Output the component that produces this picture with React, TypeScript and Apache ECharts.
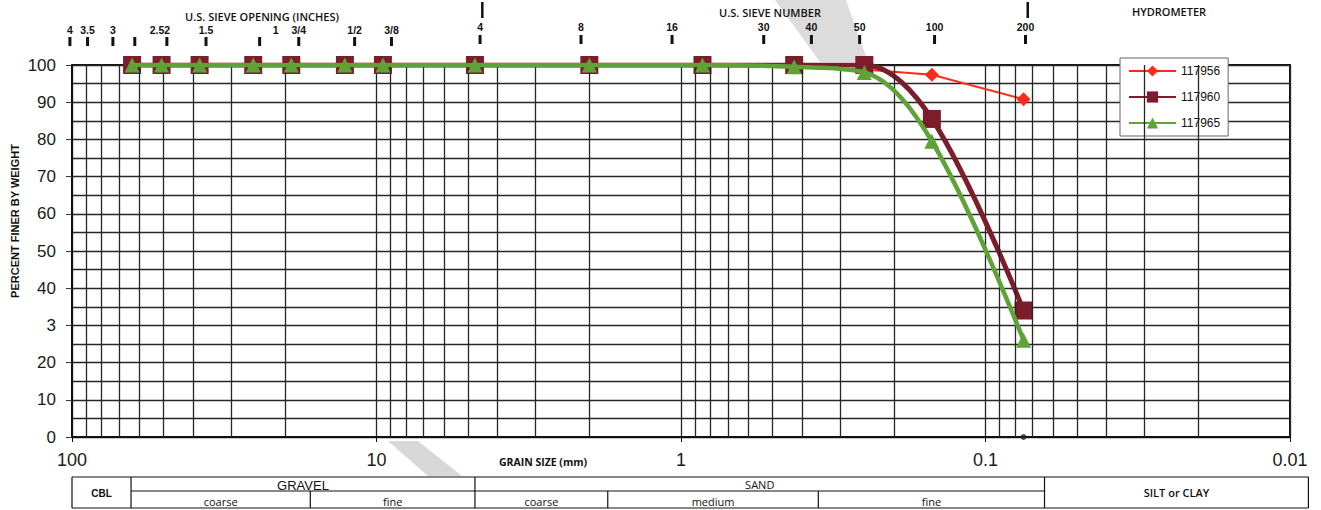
import React, { useEffect, useRef } from 'react';
import * as echarts from 'echarts';

// ---------- DATA ----------
const sieveSizesMm = [63.5, 50.8, 38.1, 25.4, 19.05, 12.7, 9.525, 4.75, 2.0, 0.85, 0.425, 0.25, 0.15, 0.075];
const pct117956 = [100, 100, 100, 100, 100, 100, 100, 100, 100, 100, 99.3, 98.8, 97.4, 90.8];
const pct117960 = [100, 100, 100, 100, 100, 100, 100, 100, 100, 100, 100, 100, 85.5, 34];
const pct117965 = [100, 100, 100, 100, 100, 100, 100, 100, 100, 100, 99.5, 98, 79.5, 26];
const hydrometerMm = [0.075];
const hydrometerPct = [0];

const seriesNames = ['117956', '117960', '117965'];
const xTickValues = [100, 10, 1, 0.1, 0.01];
const xTickLabels = ['100', '10', '1', '0.1', '0.01'];
const yTickLabels = ['0', '10', '20', '3', '40', '50', '60', '70', '80', '90', '100'];

// log-paper minor vertical lines (mm)
const gridLinesMm = [
  90, 80, 70, 60, 50, 40, 30, 20,
  9, 8, 7, 6, 5, 4, 3, 2,
  0.9, 0.8, 0.7, 0.6, 0.5, 0.4, 0.3, 0.2,
  0.09, 0.08, 0.07, 0.06, 0.05, 0.04, 0.03, 0.02,
];

// top sieve scales, as printed on the form (mm)
const inchSieveLabels = ['4', '3.5', '3', '', '2.52', '1.5', '1', '3/4', '1/2', '3/8'];
const inchSieveMm = [101.6, 88.9, 73.4, 62.2, 48.8, 36.3, 24.2, 18.0, 11.8, 8.93];
const numberSieveLabels = ['4', '8', '16', '30', '40', '50', '100', '200'];
const numberSieveMm = [4.57, 2.13, 1.07, 0.535, 0.373, 0.259, 0.147, 0.0739];

// classification table boundaries as printed (mm)
const tableBoundaryMm = [100, 64, 16.5, 4.75, 1.74, 0.354, 0.064, 0.0087];

const COLORS = ['#ff2a1a', '#7c1d2b', '#5fa336'];

export default function App() {
  const ref = useRef<HTMLDivElement>(null);

  useEffect(() => {
    const el = ref.current!;
    const chart = echarts.init(el, null, { renderer: 'svg' });
    const zip = (ys: number[]) => sieveSizesMm.map((x, i) => [x, ys[i]]);
    const lineColor = '#262626';
    const lineW = 1.3;

    const option: any = {
      animation: false,
      backgroundColor: '#ffffff',
      grid: {
        left: 72, right: 31, top: 65, bottom: 73,
        show: true, borderColor: '#111', borderWidth: 2, backgroundColor: '#ffffff',
      },
      legend: {
        data: seriesNames,
        orient: 'vertical',
        left: 1120, top: 58,
        padding: [7, 8, 7, 8],
        itemWidth: 47, itemHeight: 14, itemGap: 14,
        backgroundColor: '#ffffff', borderColor: '#666', borderWidth: 1,
        textStyle: { fontSize: 12, color: '#111', fontFamily: 'Liberation Sans, Arial' },
      },
      xAxis: {
        type: 'log', logBase: 10, min: 0.01, max: 100, inverse: true,
        axisLine: { show: true, lineStyle: { color: '#111', width: 2 } },
        axisTick: { show: true, length: 5, lineStyle: { color: '#111' } },
        splitLine: { show: true, lineStyle: { color: lineColor, width: lineW } },
        axisLabel: {
          margin: 14, fontSize: 18, color: '#1a1a1a', fontFamily: 'Liberation Sans, Arial',
          showMinLabel: true, showMaxLabel: true,
          formatter: (v: number) => {
            const i = xTickValues.findIndex((t) => Math.abs(Math.log10(t) - Math.log10(v)) < 1e-6);
            return i >= 0 ? xTickLabels[i] : '';
          },
        },
      },
      yAxis: [
        {
          type: 'value', min: 0, max: 100, interval: 5,
          axisLine: { show: true, lineStyle: { color: '#111', width: 2 } },
          axisTick: { show: false },
          splitLine: { show: true, lineStyle: { color: lineColor, width: lineW } },
          axisLabel: {
            margin: 16, fontSize: 17, color: '#1a1a1a', fontFamily: 'Liberation Sans, Arial',
            formatter: (v: number) => (v % 10 === 0 ? yTickLabels[v / 10] : ''),
          },
        },
        {
          type: 'value', min: 0, max: 100, interval: 10, position: 'left',
          axisLine: { show: false },
          axisTick: { show: true, length: 6, lineStyle: { color: '#333' } },
          axisLabel: { show: false },
          splitLine: { show: false },
        },
      ],
      series: [
        {
          type: 'line', name: 'logGrid', data: [], silent: true, z: 1,
          markLine: {
            silent: true, symbol: ['none', 'none'], label: { show: false },
            lineStyle: { color: lineColor, width: lineW, type: 'solid' },
            emphasis: { disabled: true },
            data: gridLinesMm.map((v) => ({ xAxis: v })),
          },
        },
        {
          name: seriesNames[0], type: 'line', data: zip(pct117956), z: 3,
          symbol: 'diamond', symbolSize: 14,
          lineStyle: { color: COLORS[0], width: 2 },
          itemStyle: { color: COLORS[0] },
        },
        {
          name: seriesNames[1], type: 'line', data: zip(pct117960), z: 4, smooth: 0.35,
          symbol: 'rect', symbolSize: 18,
          lineStyle: { color: COLORS[1], width: 5 },
          itemStyle: { color: COLORS[1] },
        },
        {
          name: seriesNames[2], type: 'line', data: zip(pct117965), z: 5, smooth: 0.35,
          symbol: 'triangle', symbolSize: 15,
          lineStyle: { color: COLORS[2], width: 4.5 },
          itemStyle: { color: COLORS[2] },
        },
        {
          name: 'hydrometer', type: 'scatter', z: 6,
          data: hydrometerMm.map((x, i) => [x, hydrometerPct[i]]),
          symbol: 'circle', symbolSize: 6, itemStyle: { color: '#222' },
        },
      ],
    };
    chart.setOption(option);

    const px = (mm: number, pct: number) =>
      chart.convertToPixel({ xAxisIndex: 0, yAxisIndex: 0 }, [mm, pct]) as number[];

    const g: any[] = [];
    const bold = (size: number) => `bold ${size}px "Liberation Sans", Arial`;
    const txt = (text: string, x: number, y: number, font: string, extra: any = {}) => ({
      type: 'text', x, y, silent: true, z: 50,
      style: { text, font, fill: '#111', align: 'center', verticalAlign: 'middle', ...extra },
    });
    const hline = (x1: number, x2: number, y: number, w = 1.2) => ({
      type: 'line', silent: true, z: 50, shape: { x1, y1: y, x2, y2: y }, style: { stroke: '#111', lineWidth: w },
    });
    const vline = (x: number, y1: number, y2: number, w = 1.2) => ({
      type: 'line', silent: true, z: 50, shape: { x1: x, y1, x2: x, y2 }, style: { stroke: '#111', lineWidth: w },
    });

    // watermark bands (outside plot)
    g.push({ type: 'polygon', silent: true, z: 0, shape: { points: [[775, 0], [846, 0], [868, 62], [820, 62]] }, style: { fill: '#dcdcdc' } });
    g.push({ type: 'polygon', silent: true, z: 0, shape: { points: [[388, 441], [418, 441], [462, 476], [428, 476]] }, style: { fill: '#d8d8d8' } });

    // titles
    g.push(txt('U.S. SIEVE OPENING (INCHES)', 262, 16, '600 11px "Open Sans"'));
    g.push(txt('U.S. SIEVE NUMBER', 770, 12, '600 11px "Open Sans"'));
    g.push(txt('HYDROMETER', 1169, 11, '600 11px "Open Sans"'));
    g.push(txt('GRAIN SIZE (mm)', 543, 462, 'bold 10.5px "Open Sans"'));
    g.push({ ...txt('PERCENT FINER BY WEIGHT', 15, 221, bold(11)), rotation: Math.PI / 2 });

    // inch sieve ticks
    inchSieveMm.forEach((mm, i) => {
      const x = px(mm, 100)[0];
      g.push({ type: 'rect', silent: true, z: 50, shape: { x: x - 1.5, y: 37, width: 3, height: 9 }, style: { fill: '#111' } });
      const label = inchSieveLabels[i];
      if (label) {
        let dx = 0;
        if (label === '2.52') dx = -7;
        if (label === '1') dx = 16;
        g.push(txt(label, x + dx, 30, bold(10.5)));
      }
    });
    // number sieve ticks
    numberSieveMm.forEach((mm, i) => {
      const x = px(mm, 100)[0];
      g.push({ type: 'rect', silent: true, z: 50, shape: { x: x - 1.5, y: 35, width: 3, height: 9 }, style: { fill: '#111' } });
      g.push(txt(numberSieveLabels[i], x, 27, bold(10.5)));
      if (numberSieveLabels[i] === '4' || numberSieveLabels[i] === '200') {
        g.push({ type: 'rect', silent: true, z: 50, shape: { x: x + 1, y: 2, width: 2.5, height: 16 }, style: { fill: '#111' } });
      }
    });

    // classification table
    const xs = tableBoundaryMm.map((mm) => px(mm, 0)[0]);
    const top = 477, mid = 491, bot = 508;
    g.push(hline(xs[0], xs[7], top));
    g.push(hline(xs[0], xs[7], bot));
    g.push(hline(xs[1], xs[6], mid));
    [0, 1, 3, 6, 7].forEach((k) => g.push(vline(xs[k], top, bot)));
    [2, 4, 5].forEach((k) => g.push(vline(xs[k], mid, bot)));
    const tf = '11px "Open Sans"';
    g.push(txt('CBL', (xs[0] + xs[1]) / 2, 493, bold(10)));
    g.push(txt('GRAVEL', (xs[1] + xs[3]) / 2, 485, '13px "Liberation Sans", Arial'));
    g.push(txt('coarse', (xs[1] + xs[2]) / 2, 501, tf));
    g.push(txt('fine', (xs[2] + xs[3]) / 2, 501, tf));
    g.push(txt('SAND', (xs[3] + xs[6]) / 2, 484, tf));
    g.push(txt('coarse', (xs[3] + xs[4]) / 2, 501, tf));
    g.push(txt('medium', (xs[4] + xs[5]) / 2, 501, tf));
    g.push(txt('fine', (xs[5] + xs[6]) / 2, 501, tf));
    g.push(txt('SILT or CLAY', (xs[6] + xs[7]) / 2, 492, '600 11px "Open Sans"'));

    chart.setOption({ graphic: g });

    return () => chart.dispose();
  }, []);

  return (
    <div
      ref={ref}
      style={{ position: 'absolute', left: 0, top: 0, width: 1321, height: 510, background: '#fff' }}
    />
  );
}
